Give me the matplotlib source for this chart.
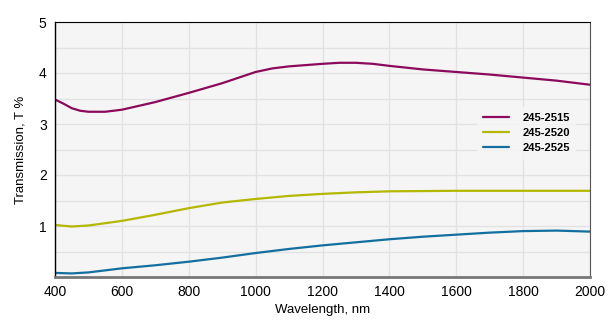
import matplotlib
matplotlib.use("Agg")
import matplotlib.pyplot as plt

plt.rcParams["font.family"] = ["Liberation Sans", "DejaVu Sans"]

wl_a = [400, 425, 450, 475, 500, 550, 600, 700, 800, 900, 950, 1000, 1050, 1100, 1200, 1250, 1300, 1350, 1400, 1500, 1600, 1700, 1800, 1900, 2000]
t_2515 = [3.48, 3.40, 3.31, 3.26, 3.24, 3.24, 3.28, 3.43, 3.61, 3.80, 3.91, 4.02, 4.09, 4.13, 4.18, 4.20, 4.20, 4.18, 4.14, 4.07, 4.02, 3.97, 3.91, 3.85, 3.77]

wl_b = [400, 450, 500, 600, 700, 800, 900, 1000, 1100, 1200, 1300, 1400, 1600, 1800, 2000]
t_2520 = [1.02, 0.99, 1.01, 1.10, 1.22, 1.35, 1.46, 1.53, 1.59, 1.63, 1.66, 1.68, 1.69, 1.69, 1.69]

wl_c = [400, 450, 500, 600, 700, 800, 900, 1000, 1100, 1200, 1300, 1400, 1500, 1600, 1700, 1800, 1900, 2000]
t_2525 = [0.08, 0.07, 0.09, 0.17, 0.23, 0.30, 0.38, 0.47, 0.55, 0.62, 0.68, 0.74, 0.79, 0.83, 0.87, 0.90, 0.91, 0.89]

labels = ["245-2515", "245-2520", "245-2525"]
colors = ["#8c0a5c", "#b4b800", "#126fa0"]
xticks = [400, 600, 800, 1000, 1200, 1400, 1600, 1800, 2000]
yticks = [1, 2, 3, 4, 5]

fig = plt.figure(figsize=(6.13, 3.28), dpi=100)
ax = fig.add_axes([55/613, 51/328, 535/613, 255/328])
ax.set_facecolor("#f5f5f5")

for x, y, lab, c in zip([wl_a, wl_b, wl_c], [t_2515, t_2520, t_2525], labels, colors):
    ax.plot(x, y, color=c, lw=1.6, label=lab, solid_capstyle="round", solid_joinstyle="round")

ax.set_xlim(400, 2000)
ax.set_ylim(0, 5)
ax.set_xticks(xticks)
ax.set_yticks(yticks)
ax.set_yticks([0.5, 1.5, 2.5, 3.5, 4.5], minor=True)
ax.grid(True, which="both", color="#e2e2e2", lw=1)
ax.set_axisbelow(True)
ax.tick_params(length=0, labelsize=10, pad=6)
ax.tick_params(which="minor", length=0)

ax.spines["left"].set_color("black")
ax.spines["top"].set_color("black")
ax.spines["right"].set_color("#555555")
ax.spines["bottom"].set_color("#777777")
ax.spines["bottom"].set_linewidth(2)
ax.spines["left"].set_linewidth(1)

ax.set_xlabel("Wavelength, nm", fontsize=9.5, labelpad=3)
ax.set_ylabel("Transmission, T %", fontsize=9.5, labelpad=9)

leg = ax.legend(loc="upper right", bbox_to_anchor=(0.985, 0.69), frameon=True,
                facecolor="#f5f5f5", edgecolor="none", fancybox=False,
                prop={"weight": "bold", "size": 8}, handlelength=2.3,
                handletextpad=1.2, labelspacing=0.45, borderpad=0.6)

fig.savefig("out.png", dpi=100)
